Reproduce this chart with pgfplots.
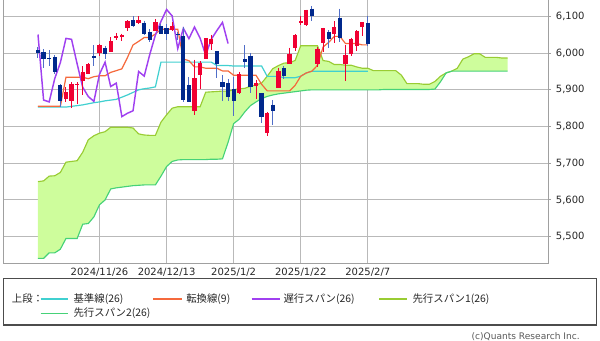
\documentclass[border=0pt]{standalone}
\usepackage{fontspec}
\setmainfont{DejaVu Sans}
\newfontfamily\jp{Noto Sans CJK JP}
\usepackage{pgfplots}
\usepackage{pgfplotstable}
\pgfplotsset{compat=1.18}
\usepgfplotslibrary{fillbetween}

\definecolor{kijun}{RGB}{64,208,208}
\definecolor{tenkan}{RGB}{245,105,60}
\definecolor{chikou}{RGB}{160,64,240}
\definecolor{spanA}{RGB}{153,204,51}
\definecolor{senkoutwo}{RGB}{70,210,120}
\definecolor{cloud}{RGB}{206,253,156}
\definecolor{upred}{RGB}{240,0,50}
\definecolor{downblue}{RGB}{0,40,140}
\definecolor{downwick}{RGB}{80,110,200}
\definecolor{gridgray}{RGB}{185,185,185}
\definecolor{framegray}{RGB}{160,160,160}

% up candles: top = close, bot = open
\pgfplotstableread{
i top bot hi lo
5 5893.62 5874.17 5908.12 5865.95
6 5916.98 5870.48 5920.73 5850.89
7 5917.11 5914.87 5920.67 5860.58
8 5948.71 5924.49 5963.82 5885.82
9 5969.34 5944.36 5972.90 5944.36
11 6021.63 6000.03 6025.42 5992.27
13 6032.38 6003.98 6044.17 6003.98
14 6047.15 6040.11 6053.58 6035.33
15 6049.88 6042.97 6052.81 6033.39
16 6086.49 6069.39 6089.84 6061.06
18 6090.27 6081.38 6099.97 6079.98
21 6084.19 6060.15 6092.59 6060.15
24 6074.08 6063.79 6085.19 6059.14
28 5930.85 5842.00 5982.06 5832.30
29 5974.07 5940.25 5978.25 5902.57
30 6040.04 5984.63 6040.10 5983.64
31 6037.59 6024.97 6049.75 6007.37
36 5942.47 5891.07 5949.34 5888.66
39 5918.25 5910.66 5927.89 5874.78
41 5836.22 5782.35 5838.80 5773.31
43 5949.91 5905.17 5960.61 5905.17
45 5996.66 5969.04 6014.96 5969.04
46 6049.24 6014.12 6051.51 6006.88
47 6086.37 6081.39 6100.81 6076.15
48 6118.71 6076.32 6118.73 6074.67
50 6012.28 5969.04 6017.17 5962.92
51 6067.70 6026.97 6069.72 6003.09
53 6071.17 6050.75 6086.64 6027.46
55 5994.57 5969.65 6022.13 5923.93
56 6037.88 5998.14 6042.48 5990.87
57 6061.48 6020.45 6062.86 6007.06
58 6083.57 6072.22 6084.03 6046.83
}\upcandles

% down candles: top = open, bot = close
\pgfplotstableread{
i top bot hi lo
0 6008.86 6001.35 6017.31 5986.69
1 6003.60 5983.99 6009.92 5960.08
2 5985.75 5985.38 6008.19 5965.91
3 5989.68 5949.17 5993.88 5942.28
4 5912.79 5870.62 5915.09 5853.01
10 5992.28 5987.37 6020.75 5963.91
12 6014.11 5998.74 6020.16 5984.87
17 6089.03 6075.11 6099.97 6071.49
19 6083.01 6052.85 6088.51 6048.63
20 6057.59 6034.91 6065.40 6029.89
22 6074.29 6051.25 6079.68 6051.25
23 6068.17 6051.09 6078.58 6035.77
25 6052.55 6050.61 6057.68 6035.19
26 6047.65 5872.16 6070.67 5867.79
27 5912.71 5867.08 5935.52 5866.07
32 6006.17 5970.84 6006.17 5932.95
33 5920.67 5906.94 5940.79 5869.16
34 5919.74 5881.63 5929.74 5868.86
35 5903.26 5868.55 5935.09 5829.53
37 5982.81 5975.38 6021.04 5960.01
38 5993.26 5909.03 6000.68 5890.68
40 5890.66 5827.04 5890.66 5809.22
42 5859.66 5842.91 5871.92 5805.56
44 5958.99 5937.34 5964.69 5930.34
49 6121.43 6101.24 6128.18 6088.74
52 6057.70 6039.31 6062.83 6012.96
54 6096.79 6040.53 6120.91 6030.93
59 6083.13 6025.99 6101.28 6019.96
}\downcandles

\pgfplotstableread{
i v
0 5855
1 5855
2 5855
3 5855
4 5855
5 5934
6 5934
7 5934
8 5934.1
9 5930.4
10 5935.8
11 5938.2
12 5938.2
13 5947.5
14 5952.2
15 5957.1
16 5987.8
17 6022.2
18 6031.9
19 6042.4
20 6042.4
21 6052.0
22 6064.9
23 6064.9
24 6064.9
25 6064.9
26 5983.9
27 5979.3
28 5962.5
29 5962.5
30 5958.8
31 5958.8
32 5958.8
33 5951.5
34 5951.5
35 5939.6
36 5939.6
37 5939.6
38 5939.6
39 5939.6
40 5915.1
41 5897.2
42 5897.2
43 5897.2
44 5897.2
45 5897.2
46 5912.4
47 5937.1
48 5946.0
49 5950.8
50 5966.9
51 6016.7
52 6029.3
53 6045.6
54 6045.6
55 6026.1
56 6026.1
57 6026.1
58 6022.4
59 6022.4
}\tenkantab

\pgfplotstableread{
i v
0 5853
1 5853
2 5853
3 5853
4 5853
5 5853
6 5855
7 5857
8 5859
9 5862
10 5865
11 5867
12 5870
13 5872
14 5874
15 5880
16 5886
17 5893
18 5900
19 5903
20 5905
21 5908
22 5975.4
23 5975.4
24 5975.4
25 5975.4
26 5975.4
27 5975.4
28 5975.4
29 5975.4
30 5975.4
31 5975.4
32 5966.1
33 5966.1
34 5966.1
35 5964.8
36 5964.8
37 5964.8
38 5964.8
39 5964.8
40 5964.8
41 5936.6
42 5936.6
43 5936.6
44 5933.0
45 5933.0
46 5933.0
47 5937.1
48 5946.0
49 5950.8
50 5950.8
51 5950.8
52 5950.8
53 5950.8
54 5950.8
55 5950.8
56 5950.8
57 5950.8
58 5950.8
59 5950.8
}\kijuntab

\pgfplotstableread{
i v
0 6050.61
1 5872.16
2 5867.08
3 5930.85
4 5974.07
5 6040.04
6 6037.59
7 5970.84
8 5906.94
9 5881.63
10 5868.55
11 5942.47
12 5975.38
13 5909.03
14 5918.25
15 5827.04
16 5836.22
17 5842.91
18 5949.91
19 5937.34
20 5996.66
21 6049.24
22 6086.37
23 6118.71
24 6101.24
25 6012.28
26 6067.70
27 6039.31
28 6071.17
29 6040.53
30 5994.57
31 6037.88
32 6061.48
33 6083.57
34 6025.99
}\chikoutab

\pgfplotstableread{
k v
0 5650
1 5652
2 5665
3 5666
4 5675
5 5703
6 5705
7 5707
8 5730
9 5764
10 5775
11 5782
12 5786
13 5798
14 5798
15 5798
16 5798
17 5796
18 5780
19 5777
20 5776
21 5776
22 5812
23 5832
24 5850
25 5854
26 5854
27 5854
28 5854
29 5854
30 5893.5
31 5894.5
32 5895.5
33 5896.6
34 5896.2
35 5900.4
36 5902.6
37 5904.1
38 5909.8
39 5913.1
40 5918.5
41 5936.9
42 5957.6
43 5966.0
44 5972.7
45 5973.7
46 5980.0
47 6020.2
48 6020.2
49 6020.2
50 6020.2
51 5979.7
52 5977.4
53 5968.9
54 5968.9
55 5967.1
56 5967.1
57 5962.4
58 5958.8
59 5958.8
60 5952.2
61 5952.2
62 5952.2
63 5952.2
64 5952.2
65 5939.9
66 5916.9
67 5916.9
68 5916.9
69 5915.1
70 5915.1
71 5922.7
72 5937.1
73 5946.0
74 5950.8
75 5958.8
76 5983.7
77 5990.0
78 5998.2
79 5998.2
80 5988.4
81 5988.4
82 5988.4
83 5986.6
84 5986.6
}\spanAtab

\pgfplotstableread{
k v
0 5441
1 5441
2 5456
3 5456
4 5466
5 5495
6 5495
7 5495
8 5534
9 5536
10 5554
11 5587
12 5600
13 5630
14 5633
15 5635
16 5637
17 5639
18 5640
19 5641
20 5641
21 5641
22 5665
23 5691
24 5705
25 5709
26 5710
27 5710
28 5710
29 5710
30 5710
31 5711
32 5711
33 5712
34 5757
35 5808
36 5820
37 5840
38 5857
39 5867
40 5876
41 5882
42 5886
43 5889
44 5891
45 5893
46 5895
47 5897
48 5899
49 5900
50 5900
51 5900
52 5900
53 5900
54 5900
55 5900
56 5900
57 5900
58 5900
59 5900
60 5900
61 5900
62 5901
63 5901
64 5901
65 5901
66 5901
67 5901
68 5901
69 5901
70 5901
71 5902
72 5922
73 5946
74 5950.8
75 5950.8
76 5950.8
77 5950.8
78 5950.8
79 5950.8
80 5950.8
81 5950.8
82 5950.8
83 5950.8
84 5950.8
}\spanBtab

\begin{document}
\begin{tikzpicture}
\begin{axis}[
  at={(2.25pt,57.75pt)}, anchor=south west,
  scale only axis, width=408.75pt, height=197.25pt,
  xmin=-6.26, xmax=91.23, ymin=5428.4, ymax=6144.6,
  set layers,
  clip=false,
  axis line style={draw=none},
  grid=major,
  grid style={color=gridgray, line width=0.75pt},
  xtick={11,23,35,47,59},
  xticklabels={2024/11/26,2024/12/13,2025/1/2,2025/1/22,2025/2/7},
  xtick pos=bottom,
  xtick style={draw=none},
  ytick={5500,5600,...,6100},
  ytick pos=right, yticklabel pos=right,
  tick align=outside, major tick length=2.25pt,
  ytick style={color=framegray, line width=0.75pt},
  /pgf/number format/1000 sep={,},
  /pgf/number format/assume math mode=true,
  tick label style={font=\fontsize{7.5pt}{9pt}\selectfont, text=black!85},
  yticklabel style={anchor=west, inner sep=0pt, xshift=3.5pt},
  xticklabel style={anchor=north, inner sep=0pt, yshift=-1pt},
  candle/.style={draw=none, mark=none, forget plot,
    error bars/y dir=minus, error bars/y explicit, error bars/error mark=none},
]
% cloud
\addplot[name path=sa, spanA, line width=0.85pt, mark=none] table[x=k, y=v] \spanAtab;
\addplot[name path=sb, senkoutwo, line width=0.85pt, mark=none] table[x=k, y=v] \spanBtab;
\addplot[fill=cloud, draw=none] fill between[of=sa and sb];
% lines
\addplot[kijun, line width=0.9pt, mark=none] table[x=i, y=v] \kijuntab;
\addplot[tenkan, line width=0.9pt, mark=none] table[x=i, y=v] \tenkantab;
\addplot[chikou, line width=1.1pt, mark=none] table[x=i, y=v] \chikoutab;
% wicks
\addplot[candle, error bars/error bar style={draw=upred, line width=0.75pt}]
  table[x=i, y=hi, y error minus expr={\thisrow{hi}-\thisrow{lo}}] \upcandles;
\addplot[candle, error bars/error bar style={draw=downwick, line width=0.75pt}]
  table[x=i, y=hi, y error minus expr={\thisrow{hi}-\thisrow{lo}}] \downcandles;
% bodies
\addplot[candle, error bars/error bar style={draw=upred, line width=3.2pt}]
  table[x=i, y=top, y error minus expr={max(\thisrow{top}-\thisrow{bot},1.5)}] \upcandles;
\addplot[candle, error bars/error bar style={draw=downblue, line width=3.2pt}]
  table[x=i, y=top, y error minus expr={max(\thisrow{top}-\thisrow{bot},1.5)}] \downcandles;
% frame
\draw[framegray, line width=0.75pt] (rel axis cs:0,1) -- (rel axis cs:0,0) -- (rel axis cs:1,0) -- (rel axis cs:1,1);
\end{axis}
\begin{scope}[x=0.75pt,y=0.75pt]
% legend
\draw[line width=1pt, black!70] (3.3,15) rectangle (596.7,61.7);
\draw[draw=kijun, line width=1.3pt] (40.7,41) -- (68.3,41);
\draw[draw=tenkan, line width=1.3pt] (153.3,41) -- (181.7,41);
\draw[draw=chikou, line width=1.3pt] (251.7,41) -- (280,41);
\draw[draw=spanA, line width=1.3pt] (379,41) -- (406.7,41);
\draw[draw=senkoutwo, line width=1.3pt] (40.7,26.5) -- (68.3,26.5);
\begin{scope}[every node/.style={anchor=west, inner sep=0pt, font=\jp\fontsize{7.8pt}{9pt}\selectfont, text=black!85}]
\node at (11.7,41) {上段：};
\node at (73.3,41) {基準線(26)};
\node at (186,41) {転換線(9)};
\node at (283.3,41) {遅行スパン(26)};
\node at (412.3,41) {先行スパン1(26)};
\node at (73.3,26.5) {先行スパン2(26)};
\end{scope}
\node[anchor=east, inner sep=0pt, font=\fontsize{6.8pt}{8pt}\selectfont, text=black!65] at (580,3.6) {(c)Quants Research Inc.};
\pgfresetboundingbox
\path[use as bounding box] (0,0) rectangle (600,340);
\end{scope}
\end{tikzpicture}
\end{document}
